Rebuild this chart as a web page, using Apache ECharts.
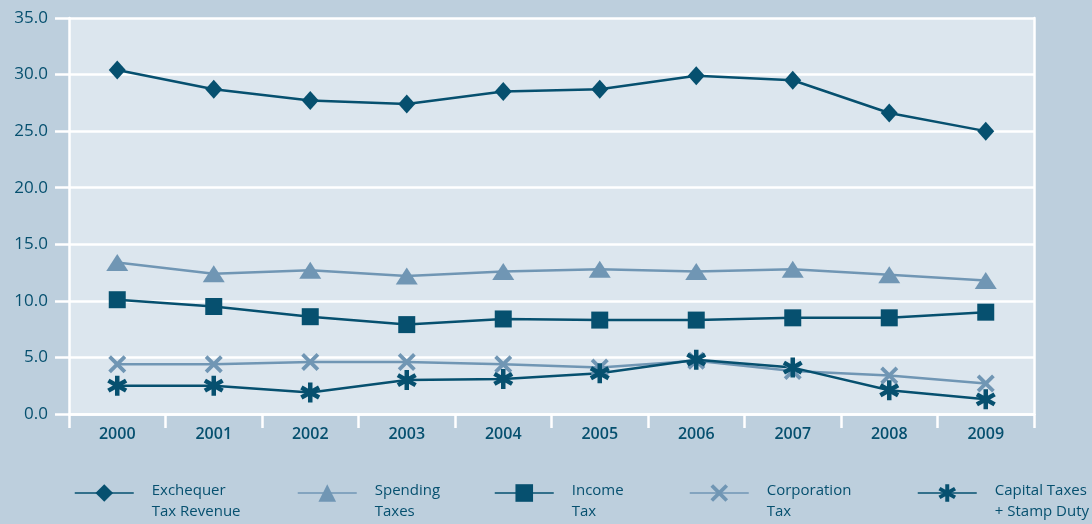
<!DOCTYPE html>
<html>
<head>
<meta charset="utf-8">
<script src="https://cdn.jsdelivr.net/npm/echarts@6/dist/echarts.min.js"></script>
<style>
html,body{margin:0;padding:0;background:#bdcfdd;}
#c{width:1092px;height:524px;}
</style>
</head>
<body>
<div id="c"></div>
<script>
const years = ['2000','2001','2002','2003','2004','2005','2006','2007','2008','2009'];
const yTicks = [0, 5, 10, 15, 20, 25, 30, 35];
const exchequer = [30.4, 28.7, 27.7, 27.4, 28.5, 28.7, 29.9, 29.5, 26.6, 25.0];
const spending = [13.4, 12.4, 12.7, 12.2, 12.6, 12.8, 12.6, 12.8, 12.3, 11.8];
const income = [10.1, 9.5, 8.6, 7.9, 8.4, 8.3, 8.3, 8.5, 8.5, 9.0];
const corporation = [4.4, 4.4, 4.6, 4.6, 4.4, 4.1, 4.7, 3.8, 3.4, 2.7];
const capital = [2.5, 2.5, 1.9, 3.0, 3.1, 3.6, 4.8, 4.1, 2.1, 1.3];
const names = ['Exchequer\nTax Revenue', 'Spending\nTaxes', 'Income\nTax', 'Corporation\nTax', 'Capital Taxes\n+ Stamp Duty'];

const DARK = '#06506f';
const LIGHT = '#7096b4';
const FONT = '"Open Sans", "Noto Sans", sans-serif';

function asteriskPath() {
  const c = 10, L = 10, w = 2.2;
  let d = '';
  [0, 60, 120].forEach(a => {
    const r = a * Math.PI / 180;
    const ux = Math.sin(r), uy = -Math.cos(r);
    const px = -uy, py = ux;
    const pts = [
      [c + ux * L + px * w, c + uy * L + py * w],
      [c + ux * L - px * w, c + uy * L - py * w],
      [c - ux * L - px * w, c - uy * L - py * w],
      [c - ux * L + px * w, c - uy * L + py * w]
    ];
    d += 'M' + pts.map(p => p[0].toFixed(2) + ',' + p[1].toFixed(2)).join(' L') + ' Z ';
  });
  return 'path://' + d;
}
const X_PATH = 'path://M0,3 L3,0 L10,7 L17,0 L20,3 L13,10 L20,17 L17,20 L10,13 L3,20 L0,17 L7,10 Z';
const STAR_PATH = asteriskPath();

const chart = echarts.init(document.getElementById('c'));

function mkSeries(name, data, color, symbol, size) {
  return {
    name: name, type: 'line', data: data,
    symbol: symbol, symbolSize: size,
    lineStyle: { color: color, width: 2.5 },
    itemStyle: { color: color },
    emphasis: { disabled: true },
    animation: false
  };
}

const legendLefts = [74, 297, 494, 689, 917];
const legends = names.map((n, i) => ({
  data: [n],
  left: legendLefts[i],
  top: 467,
  padding: 0,
  itemWidth: 59,
  itemHeight: 22,
  selectedMode: false,
  lineStyle: { width: 1.5 },
  formatter: name => '{s| }\n' + name.split('\n').map(t => '{a|' + t + '}').join('\n'),
  textStyle: {
    fontFamily: FONT, fontSize: 15, color: DARK, padding: [0, 0, 0, 13],
    rich: {
      s: { fontSize: 10, lineHeight: 16 },
      a: { fontFamily: FONT, fontSize: 15, color: DARK, lineHeight: 21 }
    }
  }
}));

chart.setOption({
  backgroundColor: '#bdcfdd',
  animation: false,
  grid: { left: 69, right: 58, top: 18, bottom: 110, show: true, backgroundColor: '#dce6ee', borderWidth: 0 },
  legend: legends,
  xAxis: {
    type: 'category', data: years, boundaryGap: true,
    axisLine: { lineStyle: { color: '#ffffff', width: 2.5 } },
    axisTick: { show: true, length: 14, lineStyle: { color: '#ffffff', width: 2.5 } },
    axisLabel: { color: DARK, fontFamily: FONT, fontSize: 16, fontWeight: 600, margin: 12 }
  },
  yAxis: [{
    type: 'value', min: yTicks[0], max: yTicks[yTicks.length - 1], interval: 5,
    axisLine: { show: true, lineStyle: { color: '#ffffff', width: 2.5 } },
    axisTick: { show: true, length: 14, lineStyle: { color: '#ffffff', width: 2.5 } },
    splitLine: { lineStyle: { color: '#ffffff', width: 2.5 } },
    axisLabel: { color: DARK, fontFamily: FONT, fontSize: 17, margin: 21, formatter: v => v.toFixed(1) }
  }, {
    type: 'value', position: 'right', min: 0, max: 35, interval: 5,
    axisLine: { show: true, lineStyle: { color: '#ffffff', width: 2.5 } },
    axisTick: { show: false }, axisLabel: { show: false }, splitLine: { show: false }
  }],
  series: [
    mkSeries(names[0], exchequer, DARK, 'diamond', [17, 19]),
    mkSeries(names[1], spending, LIGHT, 'triangle', [22, 17]),
    mkSeries(names[2], income, DARK, 'rect', 17),
    mkSeries(names[3], corporation, LIGHT, X_PATH, 18),
    mkSeries(names[4], capital, DARK, STAR_PATH, 20)
  ]
});
</script>
</body>
</html>
